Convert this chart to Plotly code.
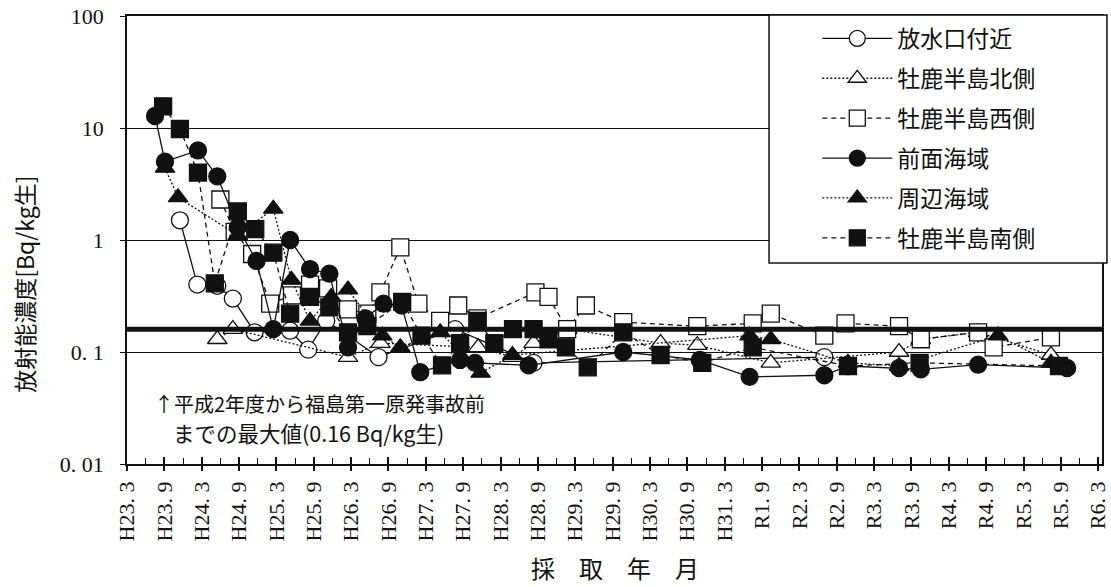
import plotly.graph_objects as go

# ---- axis categories (half-year ticks, months since H23.3) ----
tick_labels = ["H23. 3", "H23. 9", "H24. 3", "H24. 9", "H25. 3", "H25. 9", "H26. 3",
               "H26. 9", "H27. 3", "H27. 9", "H28. 3", "H28. 9", "H29. 3", "H29. 9",
               "H30. 3", "H30. 9", "H31. 3", "R1. 9", "R2. 3", "R2. 9", "R3. 3",
               "R3. 9", "R4. 3", "R4. 9", "R5. 3", "R5. 9", "R6. 3"]
y_tick_vals = [0.01, 0.1, 1, 10, 100]
y_tick_text = ["0. 01", "0. 1", "1", "10", "100"]
background_max = 0.16

# ---- series (x: months since March 2011, y: Bq/kg生) ----
hosuikou_m = [8.5, 11.3, 14.5, 17.0, 20.5, 26.2, 29.1, 32.0, 40.4, 52.7, 65.3, 112.0]
hosuikou_v = [1.5, 0.40, 0.39, 0.30, 0.15, 0.155, 0.105, 0.19, 0.09, 0.16, 0.08, 0.09]

kita_m = [14.5, 17.0, 35.5, 40.7, 56.4, 61.9, 65.3, 70.7, 85.7, 91.6, 103.4, 124.0, 127.5, 136.7, 148.4]
kita_v = [0.13, 0.16, 0.09, 0.12, 0.11, 0.09, 0.12, 0.16, 0.12, 0.115, 0.08, 0.10, 0.13, 0.15, 0.094]

nishi_m = [15.0, 17.3, 20.1, 23.0, 26.5, 29.4, 32.3, 35.5, 38.6, 40.7, 43.9, 46.8, 50.3, 53.2, 56.3,
           65.6, 67.7, 70.7, 73.7, 79.7, 91.6, 100.5, 103.4, 112.0, 115.4, 124.0, 127.5, 136.7, 139.2, 148.4]
nishi_v = [2.3, 1.18, 0.75, 0.27, 0.32, 0.40, 0.37, 0.24, 0.22, 0.34, 0.86, 0.27, 0.19, 0.26, 0.20,
           0.34, 0.31, 0.16, 0.26, 0.185, 0.17, 0.18, 0.22, 0.14, 0.18, 0.17, 0.13, 0.15, 0.11, 0.135]

zenmen_m = [4.5, 6.1, 11.4, 14.5, 17.8, 20.8, 23.5, 26.2, 29.4, 32.5, 35.5, 38.3, 41.2, 44.1, 47.1,
            53.5, 55.9, 64.5, 79.7, 92.0, 100.0, 112.0, 115.8, 124.0, 127.5, 136.7, 151.0]
zenmen_v = [12.8, 5.0, 6.3, 3.7, 1.3, 0.65, 0.16, 1.0, 0.55, 0.50, 0.11, 0.20, 0.27, 0.26, 0.066,
            0.085, 0.08, 0.076, 0.10, 0.085, 0.06, 0.062, 0.075, 0.072, 0.07, 0.077, 0.072]

shuhen_m = [6.1, 8.2, 17.8, 23.5, 26.4, 29.4, 32.8, 35.5, 41.0, 43.9, 50.3, 56.8, 61.9,
            100.0, 103.4, 115.8, 124.0, 139.9, 148.4]
shuhen_v = [4.4, 2.4, 1.1, 1.9, 0.44, 0.19, 0.31, 0.36, 0.14, 0.11, 0.15, 0.065, 0.094,
            0.14, 0.13, 0.08, 0.075, 0.14, 0.08]

minami_m = [5.8, 8.5, 11.4, 14.1, 17.8, 20.6, 23.5, 26.2, 29.4, 32.5, 35.5, 38.6, 44.2, 47.3, 50.6,
            53.5, 56.3, 59.0, 62.0, 65.3, 67.7, 70.5, 74.0, 79.7, 85.7, 92.4, 100.5, 115.8, 127.3, 149.7]
minami_v = [15.6, 9.8, 4.0, 0.41, 1.8, 1.25, 0.77, 0.22, 0.31, 0.25, 0.15, 0.17, 0.28, 0.14, 0.076,
            0.12, 0.19, 0.12, 0.16, 0.16, 0.13, 0.11, 0.073, 0.15, 0.094, 0.08, 0.11, 0.075, 0.08, 0.075]

CJK = "Noto Sans CJK JP"
SERIF = "Liberation Serif"
INK = "#111111"

fig = go.Figure()


def add_series(name, xs, ys, symbol, filled, dash, group):
    fig.add_trace(go.Scatter(
        x=xs, y=ys, name=name, mode="lines+markers", legendgroup=group,
        line=dict(color=INK, width=1.3, dash=dash),
        marker=dict(symbol=symbol, size=17,
                    color=INK if filled else "white",
                    line=dict(color=INK, width=1.3)),
    ))


add_series("放水口付近", hosuikou_m, hosuikou_v, "circle", False, "solid", "g1")
add_series("牡鹿半島北側", kita_m, kita_v, "triangle-up", False, "2px,2px", "g2")
add_series("牡鹿半島西側", nishi_m, nishi_v, "square", False, "5px,4px", "g3")
add_series("前面海域", zenmen_m, zenmen_v, "circle", True, "solid", "g4")
add_series("周辺海域", shuhen_m, shuhen_v, "triangle-up", True, "2px,2px", "g5")
add_series("牡鹿半島南側", minami_m, minami_v, "square", True, "5px,4px", "g6")

# helper trace for the overlay axis (outer half of major ticks)
fig.add_trace(go.Scatter(x=[None], y=[None], xaxis="x2", showlegend=False, hoverinfo="skip"))

x_max = 156.6
major_ticks = list(range(0, 157, 6))

fig.update_layout(
    width=1111, height=587,
    margin=dict(l=127, r=9, t=16, b=123, autoexpand=False),
    plot_bgcolor="white", paper_bgcolor="white",
    font=dict(family=CJK, color=INK),
    xaxis=dict(range=[0, x_max], tickvals=major_ticks, ticktext=tick_labels,
               tickangle=-90, ticks="inside", ticklen=7, tickwidth=1.5, tickcolor=INK,
               minor=dict(tick0=0, dtick=3, ticks="inside", ticklen=6, tickwidth=1.2, tickcolor=INK),
               showline=True, mirror=True, linecolor=INK, linewidth=1.5,
               showgrid=False, zeroline=False, ticklabelstandoff=7, automargin=False,
               ticklabeloverflow="allow",
               tickfont=dict(family=SERIF, size=22, color=INK)),
    xaxis2=dict(range=[0, x_max], overlaying="x", anchor="y", side="bottom",
                tickvals=major_ticks, ticks="outside", ticklen=6, tickwidth=1.5, tickcolor=INK,
                showticklabels=False, showline=False, showgrid=False, zeroline=False,
                automargin=False),
    yaxis=dict(type="log", range=[-2, 2], tickvals=y_tick_vals, ticktext=y_tick_text,
               ticks="outside", ticklen=5, tickwidth=1.3, tickcolor=INK,
               showgrid=True, gridcolor=INK, gridwidth=1.3,
               showline=True, mirror=True, linecolor=INK, linewidth=1.5,
               zeroline=False, ticklabelstandoff=12, automargin=False,
               ticklabeloverflow="allow",
               tickfont=dict(family=SERIF, size=22, color=INK)),
    legend=dict(x=0.708, y=0.998, xanchor="left", yanchor="top",
                bgcolor="rgba(0,0,0,0)", borderwidth=0,
                font=dict(family=CJK, size=23, color=INK),
                itemwidth=70, tracegroupgap=7, traceorder="grouped"),
    showlegend=True,
)

# background maximum line and legend frame
fig.add_shape(type="line", xref="paper", x0=0, x1=1, yref="y", y0=background_max, y1=background_max,
              line=dict(color=INK, width=5), layer="above")
fig.add_shape(type="rect", xref="paper", yref="paper", x0=0.6585, x1=1.0051, y0=0.4487, y1=1.0022,
              line=dict(color=INK, width=1.5), fillcolor="white", layer="above")

fig.add_annotation(text="↑平成2年度から福島第一原発事故前", xref="paper", yref="paper",
                   x=0.026, y=0.1340, xanchor="left", yanchor="middle", showarrow=False,
                   font=dict(family=CJK, size=20, color=INK))
fig.add_annotation(text="までの最大値(0.16 Bq/kg生)", xref="paper", yref="paper",
                   x=0.045, y=0.0700, xanchor="left", yanchor="middle", showarrow=False,
                   font=dict(family=CJK, size=21.5, color=INK))
fig.add_annotation(text="放射能濃度[Bq/kg生]", xref="paper", yref="paper",
                   x=-0.1058, y=0.4018, xanchor="center", yanchor="middle", textangle=-90,
                   showarrow=False, font=dict(family=CJK, size=23, color=INK))
fig.add_annotation(text="採　取　年　月", xref="paper", yref="paper",
                   x=0.5005, y=-0.232, xanchor="center", yanchor="middle", showarrow=False,
                   font=dict(family=CJK, size=24, color=INK))

# remove the browser's default 8px body margin so the figure fills the window exactly
fig.write_html("out.html", config={"displayModeBar": False},
               post_script="document.body.style.margin='0px';")
